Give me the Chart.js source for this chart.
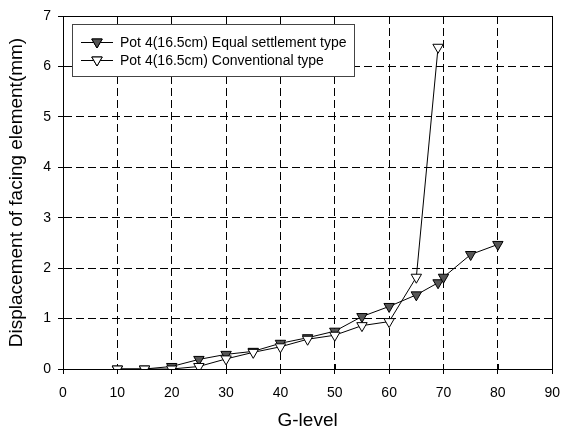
<!DOCTYPE html>
<html>
<head>
<meta charset="utf-8">
<script src="https://cdn.jsdelivr.net/npm/chart.js@4/dist/chart.umd.min.js"></script>
<style>
  html, body { margin: 0; padding: 0; background: #fff; }
  #wrap { width: 571px; height: 432px; }
</style>
</head>
<body>
<div id="wrap"><canvas id="chart" width="571" height="432"></canvas></div>
<script>
// G-level values and facing displacement (mm)
const gLevelEqual = [10, 15, 20, 25, 30, 35, 40, 45, 50, 55, 60, 65, 69, 70, 75, 80];
const dispEqual = [0, 0, 0.05, 0.19, 0.29, 0.35, 0.51, 0.62, 0.75, 1.04, 1.24, 1.47, 1.71, 1.82, 2.27, 2.47];
const gLevelConv = [10, 15, 20, 25, 30, 35, 40, 45, 50, 55, 60, 65, 69];
const dispConv = [0, 0, 0, 0.05, 0.2, 0.33, 0.44, 0.59, 0.67, 0.86, 0.94, 1.82, 6.38];

const labelEqual = 'Pot 4(16.5cm) Equal settlement type';
const labelConv = 'Pot 4(16.5cm) Conventional type';

const FONT = "'Liberation Sans', Arial, sans-serif";

function toPoints(xs, ys) {
    return xs.map((x, i) => ({ x: x, y: ys[i] }));
}

// solid frame around the plot area + short inward ticks on the x axis
const framePlugin = {
    id: 'frame',
    beforeDatasetsDraw(chart) {
        const { ctx, chartArea: a } = chart;
        const xs = chart.scales.x;
        ctx.save();
        ctx.strokeStyle = '#000';
        ctx.lineWidth = 1;
        ctx.strokeRect(Math.round(a.left) + 0.5, Math.round(a.top) + 0.5,
            Math.round(a.right - a.left), Math.round(a.bottom - a.top));
        ctx.beginPath();
        xs.ticks.forEach(t => {
            const px = Math.round(xs.getPixelForValue(t.value)) + 0.5;
            ctx.moveTo(px, a.bottom);
            ctx.lineTo(px, a.bottom - 5);
        });
        ctx.stroke();
        ctx.restore();
    }
};

// boxed legend in the upper-left corner of the plot
const legendPlugin = {
    id: 'boxLegend',
    afterDatasetsDraw(chart) {
        const ctx = chart.ctx;
        const a = chart.chartArea;
        const x0 = a.left + 9, y0 = a.top + 8;
        const w = 282, h = 52;
        ctx.save();
        ctx.fillStyle = '#fff';
        ctx.fillRect(x0, y0, w, h);
        ctx.strokeStyle = '#444';
        ctx.lineWidth = 1;
        ctx.strokeRect(x0 + 0.5, y0 + 0.5, w, h);

        const rows = [
            { label: labelEqual, fill: '#555555', y: y0 + 18 },
            { label: labelConv, fill: '#ffffff', y: y0 + 36 }
        ];
        ctx.font = '14px ' + FONT;
        ctx.textBaseline = 'middle';
        rows.forEach(r => {
            ctx.strokeStyle = '#000';
            ctx.beginPath();
            ctx.moveTo(x0 + 9, r.y + 0.5);
            ctx.lineTo(x0 + 41, r.y + 0.5);
            ctx.stroke();
            Chart.helpers.drawPoint(ctx, {
                pointStyle: 'triangle', rotation: 180, radius: 6, borderWidth: 1
            }, x0 + 25, r.y);
            ctx.fillStyle = r.fill;
            ctx.fill();
            ctx.stroke();
            ctx.fillStyle = '#000';
            ctx.fillText(r.label, x0 + 48, r.y + 1);
        });
        ctx.restore();
    }
};

const ctx = document.getElementById('chart').getContext('2d');
new Chart(ctx, {
    type: 'scatter',
    data: {
        datasets: [
            {
                label: labelEqual,
                data: toPoints(gLevelEqual, dispEqual),
                showLine: true,
                borderColor: '#000',
                borderWidth: 1,
                pointStyle: 'triangle',
                rotation: 180,
                pointRadius: 6,
                pointBackgroundColor: '#555555',
                pointBorderColor: '#000',
                pointBorderWidth: 1,
                order: 2
            },
            {
                label: labelConv,
                data: toPoints(gLevelConv, dispConv),
                showLine: true,
                borderColor: '#000',
                borderWidth: 1,
                pointStyle: 'triangle',
                rotation: 180,
                pointRadius: 6,
                pointBackgroundColor: '#ffffff',
                pointBorderColor: '#000',
                pointBorderWidth: 1,
                order: 1
            }
        ]
    },
    options: {
        responsive: false,
        animation: false,
        layout: { padding: { top: 16, right: 13, left: 0, bottom: 0 } },
        plugins: {
            legend: { display: false },
            tooltip: { enabled: false }
        },
        scales: {
            x: {
                type: 'linear',
                min: 0,
                max: 90,
                ticks: { stepSize: 10, color: '#000', font: { family: FONT, size: 14 }, padding: 11 },
                grid: { color: '#000', lineWidth: 1, tickLength: 5, tickColor: '#000' },
                border: { color: '#000', dash: [8, 4] },
                title: { display: true, text: 'G-level', color: '#000', font: { family: FONT, size: 19 }, padding: { top: 0, bottom: 0 } },
                afterFit(scale) { scale.height = 63; }
            },
            y: {
                min: 0,
                max: 7,
                ticks: { stepSize: 1, color: '#000', font: { family: FONT, size: 14 }, padding: 7 },
                grid: { color: '#000', lineWidth: 1, tickLength: 5, tickColor: '#000' },
                border: { color: '#000', dash: [8, 4] },
                title: { display: true, text: 'Displacement of facing element(mm)', color: '#000', font: { family: FONT, size: 19 }, padding: { top: 5, bottom: 0 } },
                afterFit(scale) { scale.width = 63; }
            }
        }
    },
    plugins: [framePlugin, legendPlugin]
});
</script>
</body>
</html>
